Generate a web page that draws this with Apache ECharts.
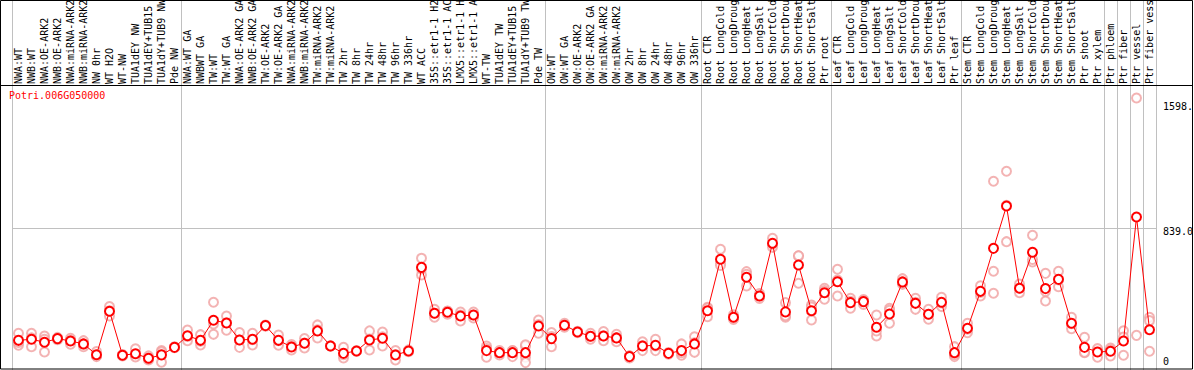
<!DOCTYPE html>
<html>
<head>
<meta charset="utf-8">
<script src="https://cdn.jsdelivr.net/npm/echarts@6/dist/echarts.min.js"></script>
<style>
html,body{margin:0;padding:0;background:#fff;}
#chart{width:1194px;height:370px;}
</style>
</head>
<body>
<div id="chart"></div>
<script>
const geneId = 'Potri.006G050000';

const categories = [
  'NWA:WT','NWB:WT','NWA:OE-ARK2','NWB:OE-ARK2','NWA:miRNA-ARK2','NWB:miRNA-ARK2','NW 0hr','WT H2O','WT-NW','TUA1dEY NW','TUA1dEY+TUB15 NW','TUA1dY+TUB9 NW','Pde NW',
  'NWA:WT GA','NWBWT GA','TW:WT','TW:WT GA','NWA:OE-ARK2 GA','NWB:OE-ARK2 GA','TW:OE-ARK2','TW:OE-ARK2 GA','NWA:miRNA-ARK2','NWB:miRNA-ARK2','TW:miRNA-ARK2','TW:miRNA-ARK2',
  'TW 2hr','TW 8hr','TW 24hr','TW 48hr','TW 96hr','TW 336hr','WT ACC','35S::etr1-1 H2O','35S::etr1-1 ACC','LMX5::etr1-1 H2O','LMX5::etr1-1 ACC','WT-TW','TUA1dEY TW','TUA1dEY+TUB15 TW','TUA1dY+TUB9 TW','Pde TW',
  'OW:WT','OW:WT GA','OW:OE-ARK2','OW:OE-ARK2 GA','OW:miRNA-ARK2','OW:miRNA-ARK2','OW 2hr','OW 8hr','OW 24hr','OW 48hr','OW 96hr','OW 336hr',
  'Root CTR','Root LongCold','Root LongDrought','Root LongHeat','Root LongSalt','Root ShortCold','Root ShortDrought','Root ShortHeat','Root ShortSalt','Ptr root',
  'Leaf CTR','Leaf LongCold','Leaf LongDrought','Leaf LongHeat','Leaf LongSalt','Leaf ShortCold','Leaf ShortDrought','Leaf ShortHeat','Leaf ShortSalt','Ptr leaf',
  'Stem CTR','Stem LongCold','Stem LongDrought','Stem LongHeat','Stem LongSalt','Stem ShortCold','Stem ShortDrought','Stem ShortHeat','Stem ShortSalt','Ptr shoot','Ptr xylem',
  'Ptr phloem','Ptr fiber','Ptr vessel','Ptr fiber vessel'
];

// index of the first category of each group (a grey divider is drawn on its left edge)
const groupStarts = [0, 13, 41, 53, 63, 73, 84, 85, 86, 87, 88];

const means = [
  183,189,172,193,179,162,99,353,96,105,78,98,142,
  210,183,300,284,185,189,269,183,144,166,238,150,
  107,121,185,195,97,121,609,341,347,325,331,123,111,111,111,267,
  193,271,232,207,208,197,88,150,154,107,123,162,
  356,656,318,551,442,750,349,623,356,461,
  525,403,409,259,337,524,399,335,405,111,
  253,469,720,967,487,697,485,539,283,142,115,
  119,179,903,245
];

const replicates = [
  [224,154,171],[224,146,197],[208,189,115],[200,186,193],[195,160,182],[181,146,160],[117,92,88],[380,325,355],[100,92,96],[134,96,86],[92,68,74],[123,55,116],[145,140,141],
  [243,181,206],[216,156,177],[405,218,278],[325,242,285],[228,142,185],[224,156,187],[272,266,269],[214,154,181],[158,127,147],[193,138,167],[273,197,244],[152,148],
  [142,80,99],[124,118],[238,127,190],[232,150,203],[123,68,100],[127,116],[662,565,600],[364,318,341],[352,335,354],[348,296,331],[348,314,331],[150,84,135],[124,98,111],[123,88,122],[150,84,53,157],[302,224,275],
  [228,146,205],[283,259],[236,228],[224,190,207],[234,181,209],[218,175,198],[92,80,92],[175,123,152],[189,123,150],[112,102],[162,96,111],[204,113,169],
  [376,321,371],[715,633,620],[332,305,317],[584,500,569],[456,428,442],[779,726,745],[403,318,326],[676,516,677],[389,302,377],[487,423,473],
  [598,442,535],[428,370,411],[421,392,414],[331,208,238],[370,283,358],[543,510,519],[428,364,405],[364,306,335],[434,380,401],[146,88,99],
  [283,228,248],[502,442,463],[1112,586,458],[1170,759,972],[512,461,488],[796,640,655],[574,413,468],[586,496,535],[318,251,280],[201,111,114],[126,84,135],
  [138,92,127],[239,96,202],[1598,212],[318,298,119]
];

const yTickValues = [0, 839, 1598];
const yTickLabels = ['0', '839.0', '1598.'];
const yMax = 2170;

const FONT = "'DejaVu Sans Mono', monospace";

const repPoints = [];
replicates.forEach(function (list, i) {
  list.forEach(function (v) { repPoints.push([i, v]); });
});

const labelStyleKey = ['bot', 'mid', 'top'];

const chart = echarts.init(document.getElementById('chart'), null, {renderer: 'svg'});
chart.setOption({
  animation: false,
  backgroundColor: '#ffffff',
  title: {
    text: geneId,
    left: 9, top: 90, padding: 0,
    textStyle: {color: '#ff0000', fontSize: 10, fontWeight: 'normal', fontFamily: FONT}
  },
  grid: {left: 12, width: 1144, top: 0, height: yMax * 130 / 759, containLabel: false, outerBoundsMode: 'none'},
  xAxis: {
    type: 'category',
    data: categories,
    position: 'top',
    offset: -85,
    boundaryGap: true,
    axisLine: {show: false},
    axisTick: {show: false},
    axisLabel: {
      interval: 0, rotate: 90, margin: 1,
      width: 86, overflow: 'truncate', ellipsis: '',
      fontSize: 10, fontFamily: FONT, color: '#000000'
    },
    splitLine: {
      show: true,
      interval: function (index) { return groupStarts.indexOf(index) >= 0; },
      lineStyle: {color: '#c0c0c0', width: 1}
    }
  },
  yAxis: {
    type: 'value',
    position: 'right',
    min: 0, max: yMax,
    axisLine: {show: false},
    axisTick: {show: false},
    splitLine: {show: false},
    axisLabel: {
      customValues: yTickValues,
      margin: 7,
      align: 'left',
      fontSize: 10, fontFamily: FONT, color: '#000000',
      formatter: function (v) {
        const k = yTickValues.indexOf(v);
        return '{' + labelStyleKey[k] + '|' + yTickLabels[k] + '}';
      },
      rich: {
        top: {padding: [18, 0, 0, 0], fontSize: 10, fontFamily: FONT},
        mid: {padding: [8, 0, 0, 0], fontSize: 10, fontFamily: FONT},
        bot: {padding: [0, 0, 20, 0], fontSize: 10, fontFamily: FONT}
      }
    }
  },
  series: [
    {
      type: 'scatter',
      data: repPoints,
      symbol: 'emptyCircle',
      symbolSize: 9,
      itemStyle: {color: '#f0a0a0', borderColor: '#f0a0a0', borderWidth: 1.5},
      z: 2,
      silent: true
    },
    {
      type: 'line',
      data: means,
      symbol: 'emptyCircle',
      symbolSize: 9,
      showAllSymbol: true,
      lineStyle: {color: '#ff0000', width: 1},
      itemStyle: {color: '#ff0000', borderColor: '#ff0000', borderWidth: 2},
      z: 3,
      silent: true,
      markLine: {
        silent: true,
        symbol: 'none',
        label: {show: false},
        lineStyle: {color: '#c0c0c0', width: 1, type: 'solid'},
        data: [{yAxis: 839}],
        z: 1
      }
    }
  ],
  graphic: [
    {type: 'rect', shape: {x: 0.5, y: 0.5, width: 1192, height: 368.5}, style: {fill: 'none', stroke: '#000000', lineWidth: 1}, z: 100, silent: true},
    {type: 'line', shape: {x1: 0, y1: 85.5, x2: 1193, y2: 85.5}, style: {stroke: '#000000', lineWidth: 1}, z: 100, silent: true}
  ]
});
</script>
</body>
</html>
